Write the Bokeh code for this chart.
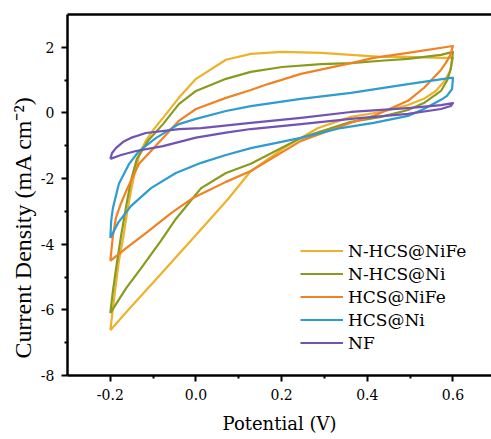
from bokeh.plotting import figure
from bokeh.models import (Range1d, FixedTicker, PrintfTickFormatter, LinearAxis,
                          Legend, LegendItem, Title)
from bokeh.embed import file_html
from bokeh.resources import INLINE

# ---- data (potential V vs current density mA cm^-2), forward then reverse scan ----
series_names = ["N-HCS@NiFe", "N-HCS@Ni", "HCS@NiFe", "HCS@Ni", "NF"]

nhcs_nife_v = [-0.200, -0.196, -0.189, -0.180, -0.170, -0.161, -0.152, -0.142, -0.131, -0.117,
               -0.100, -0.077, -0.040, 0.000, 0.070, 0.128, 0.201, 0.292, 0.362, 0.432, 0.495,
               0.572, 0.600,
               0.593, 0.581, 0.560, 0.532, 0.495, 0.432, 0.362, 0.285, 0.205, 0.128, 0.075,
               0.000, -0.082, -0.152, -0.200]
nhcs_nife_i = [-6.62, -6.19, -5.43, -4.51, -3.81, -3.05, -2.38, -1.77, -1.22, -0.85,
               -0.52, -0.15, 0.46, 1.04, 1.62, 1.80, 1.86, 1.83, 1.77, 1.71, 1.71,
               1.68, 1.68,
               1.28, 0.98, 0.67, 0.43, 0.24, 0.03, -0.12, -0.46, -1.07, -1.77, -2.62,
               -3.72, -4.91, -5.91, -6.62]

nhcs_ni_v = [-0.200, -0.194, -0.184, -0.175, -0.163, -0.152, -0.138, -0.112, -0.077, -0.040,
             0.000, 0.070, 0.128, 0.201, 0.292, 0.362, 0.432, 0.495, 0.572, 0.600,
             0.595, 0.586, 0.572, 0.532, 0.495, 0.432, 0.362, 0.245, 0.128, 0.070, 0.012,
             -0.007, -0.047, -0.082, -0.128, -0.163, -0.200]
nhcs_ni_i = [-6.10, -5.43, -4.51, -3.75, -2.84, -2.07, -1.40, -0.85, -0.34, 0.27,
             0.67, 1.04, 1.25, 1.40, 1.49, 1.52, 1.59, 1.65, 1.77, 1.86,
             1.34, 0.98, 0.67, 0.30, 0.09, -0.12, -0.27, -0.76, -1.55, -1.83, -2.29,
             -2.59, -3.23, -3.90, -4.73, -5.34, -6.10]

hcs_nife_v = [-0.200, -0.194, -0.187, -0.175, -0.163, -0.133, -0.105, -0.077, -0.040, 0.000,
              0.070, 0.128, 0.168, 0.245, 0.362, 0.415, 0.495, 0.600,
              0.593, 0.583, 0.572, 0.532, 0.495, 0.415, 0.362, 0.245, 0.128, 0.070, 0.012,
              -0.007, -0.058, -0.117, -0.163, -0.200]
hcs_nife_i = [-4.51, -3.75, -3.20, -2.75, -2.38, -1.55, -1.16, -0.76, -0.24, 0.12,
              0.46, 0.70, 0.88, 1.19, 1.52, 1.68, 1.83, 2.04,
              1.74, 1.52, 1.31, 0.76, 0.37, -0.09, -0.30, -0.85, -1.77, -2.10, -2.47,
              -2.59, -3.05, -3.66, -4.12, -4.51]

hcs_ni_v = [-0.200, -0.198, -0.194, -0.180, -0.156, -0.133, -0.093, -0.040, 0.000, 0.070,
            0.128, 0.245, 0.362, 0.495, 0.595, 0.600,
            0.598, 0.586, 0.572, 0.532, 0.495, 0.415, 0.338, 0.245, 0.128, 0.070, 0.012,
            -0.047, -0.105, -0.152, -0.182, -0.200]
hcs_ni_i = [-3.81, -3.29, -2.90, -2.16, -1.55, -1.16, -0.76, -0.34, -0.18, 0.06,
            0.21, 0.43, 0.61, 0.88, 1.07, 1.07,
            0.73, 0.52, 0.40, 0.12, -0.09, -0.30, -0.46, -0.76, -1.07, -1.28, -1.52,
            -1.83, -2.29, -2.84, -3.35, -3.81]

nf_v = [-0.200, -0.196, -0.187, -0.170, -0.152, -0.117, -0.040, 0.012, 0.128, 0.245,
        0.362, 0.495, 0.572, 0.600,
        0.595, 0.572, 0.495, 0.362, 0.245, 0.128, 0.070, 0.000, -0.077, -0.140, -0.175, -0.200]
nf_i = [-1.40, -1.22, -1.07, -0.88, -0.76, -0.61, -0.49, -0.46, -0.30, -0.15,
        0.03, 0.15, 0.24, 0.30,
        0.21, 0.12, -0.03, -0.18, -0.34, -0.49, -0.60, -0.75, -1.01, -1.16, -1.28, -1.40]

x_ticks = [-0.2, 0.0, 0.2, 0.4, 0.6]
x_minor = [-0.1, 0.1, 0.3, 0.5]
y_ticks = [-8, -6, -4, -2, 0, 2]
y_minor = [-7, -5, -3, -1, 1]

# ---- styles ----
colors = ["#EDB229", "#8A9A1E", "#F08224", "#2E9CCF", "#7152B5"]
SERIF = "DejaVu Serif"

p = figure(width=491, height=439, output_backend="svg", toolbar_location=None,
           x_range=Range1d(-0.3, 0.69), y_range=Range1d(-8, 3),
           min_border_left=67, min_border_right=0, min_border_top=14, min_border_bottom=64)
p.outline_line_color = None
p.xgrid.visible = False
p.ygrid.visible = False
p.background_fill_color = "white"
p.border_fill_color = "white"

xs = [nhcs_nife_v, nhcs_ni_v, hcs_nife_v, hcs_ni_v, nf_v]
ys = [nhcs_nife_i, nhcs_ni_i, hcs_nife_i, hcs_ni_i, nf_i]
items = []
for name, xv, yv, c in zip(series_names, xs, ys, colors):
    r = p.line(xv, yv, line_color=c, line_width=2.2, line_join="round")
    items.append(LegendItem(label=name, renderers=[r]))

xax = p.xaxis[0]
yax = p.yaxis[0]
for ax, ticks, minor, fmt in ((xax, x_ticks, x_minor, "%.1f"),
                              (yax, y_ticks, y_minor, "%d")):
    ax.ticker = FixedTicker(ticks=ticks, minor_ticks=minor)
    ax.formatter = PrintfTickFormatter(format=fmt)
    ax.axis_line_width = 2.5
    ax.axis_line_color = "black"
    ax.major_tick_line_color = "black"
    ax.minor_tick_line_color = "black"
    ax.major_tick_line_width = 2
    ax.minor_tick_line_width = 2
    ax.major_tick_out = 6
    ax.major_tick_in = 0
    ax.minor_tick_out = 3
    ax.minor_tick_in = 0
    ax.major_label_text_font = SERIF
    ax.major_label_text_font_size = "14px"
    ax.major_label_text_color = "black"
    ax.major_label_standoff = 7

xax.axis_label = "Potential (V)"
xax.axis_label_standoff = 10
xax.axis_label_text_font = SERIF
xax.axis_label_text_font_size = "18px"
xax.axis_label_text_font_style = "normal"
xax.axis_label_text_color = "black"

top = LinearAxis(ticker=FixedTicker(ticks=[]), axis_line_width=2.5, axis_line_color="black",
                 major_tick_out=0, major_tick_in=0, minor_tick_out=0, minor_tick_in=0)
p.add_layout(top, "above")

ytitle = Title(text="Current Density (mA cm\u207b\u00b2)", align="left", offset=17,
               text_font="Liberation Serif", text_font_size="24px", text_font_style="normal",
               text_color="black", standoff=4)
p.add_layout(ytitle, "left")

legend = Legend(items=items, location=(233, 21), padding=0, margin=0, spacing=0,
                glyph_width=43, glyph_height=23, label_height=23, label_standoff=5,
                label_text_font=SERIF, label_text_font_size="17px", label_text_color="black",
                background_fill_alpha=0, border_line_alpha=0)
p.add_layout(legend)

open("out.html", "w").write(file_html(p, INLINE))
